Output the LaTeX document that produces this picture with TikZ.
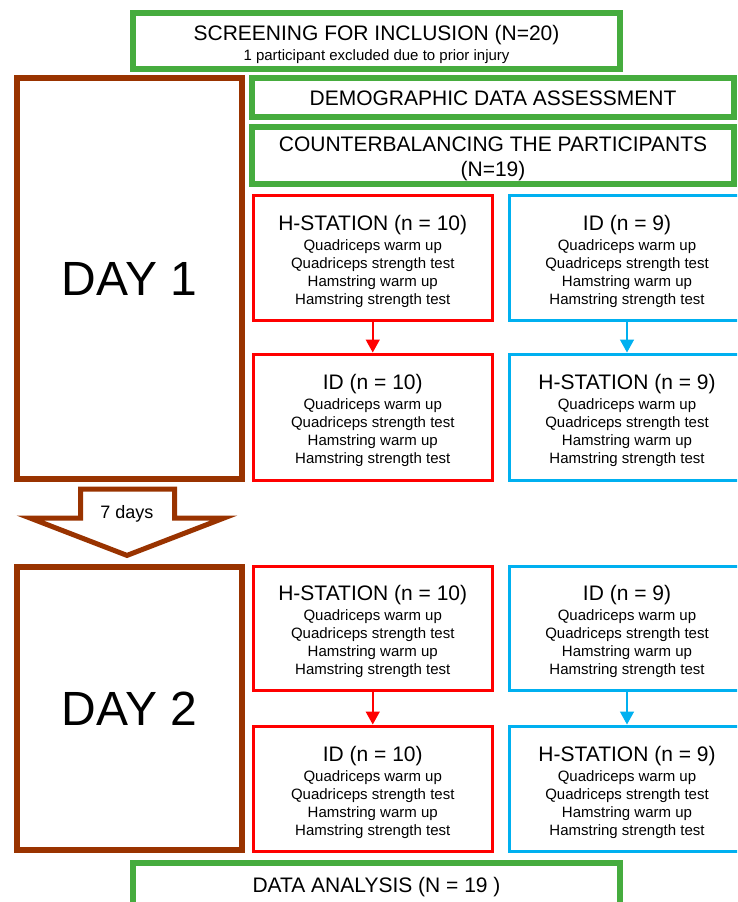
\documentclass[tikz,border=0pt]{standalone}
\usepackage{fontspec}
\setmainfont{Liberation Sans}
\usetikzlibrary{arrows.meta}
\definecolor{grn}{RGB}{70,172,62}
\definecolor{brn}{RGB}{153,51,0}
\definecolor{rd}{RGB}{255,0,0}
\definecolor{bl}{RGB}{0,176,240}
\newcommand\mybody[1]{{\fontsize{21}{18}\selectfont #1}\\[2pt]Quadriceps warm up\\Quadriceps strength test\\Hamstring warm up\\Hamstring strength test}
% #1 style, #2 name, #3 x, #4 y, #5 height, #6 title
\newcommand\stbox[6]{%
  \node[#1,minimum height=#5pt] (#2) at (#3,#4) {};
  \node[smalltxt] (#2t) at (#3,#4+3.5) {\mybody{#6}};}
\begin{document}
\begin{tikzpicture}[x=1pt,y=-1pt,
  gbox/.style={draw=grn,line width=6pt,inner sep=0pt},
  bbox/.style={draw=brn,line width=6pt,inner sep=0pt,align=center,font=\fontsize{48}{50}\selectfont},
  rbox/.style={draw=rd,line width=3pt,inner sep=0pt,minimum width=238.5pt},
  cbox/.style={draw=bl,line width=3pt,inner sep=0pt,minimum width=236pt},
  bigtxt/.style={inner sep=0pt,align=center,font=\fontsize{21}{25}\selectfont},
  smalltxt/.style={inner sep=0pt,align=center,font=\fontsize{15}{18}\selectfont},
  rarr/.style={draw=rd,line width=1.5pt,-{Triangle[width=14pt,length=13pt]}},
  carr/.style={draw=bl,line width=1.5pt,-{Triangle[width=14pt,length=13pt]}},
]
\useasboundingbox (0,0) rectangle (737,902);
\fill[white] (0,0) rectangle (737,902);
\clip (0,0) rectangle (737,902);

% top
\node[gbox,minimum width=487pt,minimum height=56pt] (screen) at (376.5,41) {};
\node[bigtxt] (screent) at (376.5,44)
  {SCREENING FOR INCLUSION (N=20)\\[-5pt]{\fontsize{15}{18}\selectfont 1 participant excluded due to prior injury}};

% day 1
\node[bbox,minimum width=225pt,minimum height=401pt] (day1) at (129.5,278.5) {DAY 1};
\node[gbox,minimum width=482pt,minimum height=39pt] (demo) at (493,97.5) {};
\node[bigtxt] (demot) at (493,98.5) {DEMOGRAPHIC DATA ASSESSMENT};
\node[gbox,minimum width=482pt,minimum height=57pt] (counter) at (493,155.5) {};
\node[bigtxt] (countert) at (493,158.5) {COUNTERBALANCING THE PARTICIPANTS\\(N=19)};

\stbox{rbox}{r1}{372.75}{257.5}{125}{H-STATION (n = 10)}
\stbox{rbox}{r2}{372.75}{417}{126}{ID (n = 10)}
\stbox{cbox}{c1}{627}{257.5}{125}{ID (n = 9)}
\stbox{cbox}{c2}{627}{417}{126}{H-STATION (n = 9)}
\draw[rarr] (r1.south) -- (r2.north);
\draw[carr] (c1.south) -- (c2.north);

% 7 days arrow
\draw[brn,line width=5pt,fill=white] (80.5,489) -- (174.5,489) -- (174.5,518) -- (224,518)
  -- (127,555.4) -- (30,518) -- (80.5,518) -- cycle;
\node[font=\fontsize{18}{20}\selectfont] (days) at (127,514) {7 days};

% day 2
\node[bbox,minimum width=225pt,minimum height=283pt] (day2) at (129.5,708.5) {DAY 2};
\stbox{rbox}{r3}{372.75}{628}{124}{H-STATION (n = 10)}
\stbox{rbox}{r4}{372.75}{788.5}{125}{ID (n = 10)}
\stbox{cbox}{c3}{627}{628}{124}{ID (n = 9)}
\stbox{cbox}{c4}{627}{788.5}{125}{H-STATION (n = 9)}
\draw[rarr] (r3.south) -- (r4.north);
\draw[carr] (c3.south) -- (c4.north);

% data analysis
\node[gbox,minimum width=487pt,minimum height=70pt] (data) at (376.5,898) {};
\node[bigtxt] (datat) at (376.5,887) {DATA ANALYSIS (N = 19 )};
\end{tikzpicture}
\end{document}
